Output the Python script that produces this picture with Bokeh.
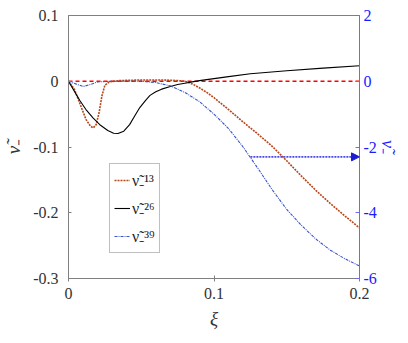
from bokeh.plotting import figure
from bokeh.models import (Range1d, LinearAxis, FixedTicker, Legend, LegendItem,
                          Arrow, NormalHead)
from bokeh.embed import file_html
from bokeh.resources import INLINE

# ---- data ----
xi13 = [0, 0.004, 0.008, 0.012, 0.015, 0.017, 0.019, 0.021, 0.023, 0.025, 0.028,
        0.035, 0.05, 0.065, 0.075, 0.08, 0.085, 0.09, 0.095, 0.1, 0.105, 0.11,
        0.12, 0.13, 0.14, 0.15, 0.16, 0.17, 0.18, 0.19, 0.2]
v13 = [0, -0.012, -0.035, -0.058, -0.068, -0.071, -0.066, -0.048, -0.022, -0.006, -0.001,
       0.001, 0.002, 0.002, 0.001, 0.0, -0.004, -0.010, -0.017, -0.025, -0.034, -0.043,
       -0.062, -0.080, -0.099, -0.121, -0.144, -0.166, -0.186, -0.205, -0.223]

xi26 = [0, 0.004, 0.008, 0.012, 0.017, 0.022, 0.027, 0.031, 0.034, 0.038, 0.042, 0.046,
        0.049, 0.053, 0.056, 0.06, 0.064, 0.07, 0.075, 0.08, 0.085, 0.09, 0.1, 0.11,
        0.125, 0.15, 0.175, 0.2]
v26 = [0, -0.015, -0.030, -0.043, -0.056, -0.067, -0.075, -0.079, -0.0795, -0.076, -0.066,
       -0.051, -0.040, -0.029, -0.0215, -0.016, -0.012, -0.008, -0.005, -0.003, -0.001,
       0.001, 0.004, 0.007, 0.0115, 0.016, 0.020, 0.0236]

# v39 on the right axis
xi39 = [0, 0.005, 0.01, 0.015, 0.02, 0.03, 0.05, 0.06, 0.07, 0.08, 0.09, 0.1, 0.11,
        0.12, 0.13, 0.14, 0.15, 0.16, 0.17, 0.18, 0.19, 0.2]
v39 = [0, -0.08, -0.16, -0.10, -0.02, 0.0, 0.0, -0.04, -0.14, -0.34, -0.62, -1.0, -1.44,
       -2.0, -2.64, -3.3, -3.9, -4.38, -4.8, -5.14, -5.4, -5.62]

zero_x = [0, 0.2]
zero_y = [0, 0]

arrow_x = [0.125, 0.2]
arrow_y = -2.3

x_ticks = [0, 0.1, 0.2]
x_tick_labels = ["0", "0.1", "0.2"]
yl_ticks = [0.1, 0, -0.1, -0.2, -0.3]
yl_tick_labels = ["0.1", "0", "-0.1", "-0.2", "-0.3"]
yr_ticks = [2, 0, -2, -4, -6]
yr_tick_labels = ["2", "0", "-2", "-4", "-6"]

labels = ["ν̃₋¹³", "ν̃₋²⁶", "ν̃₋³⁹"]

SERIF = "Liberation Serif"
BLUE_AX = "#6b6bf5"
BLUE_TXT = "#1a1aff"
TXT = "#333333"

p = figure(width=400, height=334, output_backend="svg", toolbar_location=None,
           x_range=Range1d(0, 0.2), y_range=Range1d(-0.3, 0.1),
           min_border_left=64, min_border_right=40, min_border_top=15, min_border_bottom=56,
           x_axis_label="ξ", y_axis_label="ν̃₋")
p.extra_y_ranges = {"right": Range1d(-6, 2)}
p.grid.visible = False
p.outline_line_color = "#808080"
p.outline_line_width = 1
p.background_fill_color = "white"
p.border_fill_color = "white"

# x axis
xa = p.xaxis[0]
xa.ticker = FixedTicker(ticks=x_ticks)
xa.major_label_overrides = {t: l for t, l in zip(x_ticks, x_tick_labels)}
xa.minor_tick_line_color = None
xa.major_tick_in = 3
xa.major_tick_out = 3
xa.axis_line_color = "#808080"
xa.major_tick_line_color = "#808080"
xa.major_label_text_font = SERIF
xa.major_label_text_font_size = "16px"
xa.major_label_text_color = TXT
xa.major_label_standoff = 6
xa.axis_label_text_font = SERIF
xa.axis_label_text_font_style = "italic"
xa.axis_label_text_font_size = "19px"
xa.axis_label_text_color = TXT
xa.axis_label_standoff = 6

# left axis
ya = p.yaxis[0]
ya.ticker = FixedTicker(ticks=yl_ticks)
ya.major_label_overrides = {t: l for t, l in zip(yl_ticks, yl_tick_labels)}
ya.minor_tick_line_color = None
ya.major_tick_in = 3
ya.major_tick_out = 0
ya.axis_line_color = "#808080"
ya.major_tick_line_color = "#808080"
ya.major_label_text_font = SERIF
ya.major_label_text_font_size = "16px"
ya.major_label_text_color = TXT
ya.major_label_standoff = 10
ya.axis_label_text_font = SERIF
ya.axis_label_text_font_style = "italic"
ya.axis_label_text_font_size = "19px"
ya.axis_label_text_color = TXT
ya.axis_label_standoff = 6

# right axis
ra = LinearAxis(y_range_name="right", axis_label="ν̃₋")
ra.ticker = FixedTicker(ticks=yr_ticks)
ra.major_label_overrides = {t: l for t, l in zip(yr_ticks, yr_tick_labels)}
ra.minor_tick_line_color = None
ra.major_tick_in = 4
ra.major_tick_out = 0
ra.axis_line_color = BLUE_AX
ra.major_tick_line_color = BLUE_AX
ra.major_label_text_font = SERIF
ra.major_label_text_font_size = "16px"
ra.major_label_text_color = BLUE_TXT
ra.major_label_standoff = 4
ra.axis_label_text_font = SERIF
ra.axis_label_text_font_style = "italic"
ra.axis_label_text_font_size = "18px"
ra.axis_label_text_color = BLUE_TXT
ra.axis_label_standoff = -2
p.add_layout(ra, "right")

# lines
p.line(zero_x, zero_y, line_color="#ff0000", line_dash="4 3", line_width=1.3)
r13 = p.line(xi13, v13, line_color="#b8461a", line_dash="2 1", line_width=1.6)
r26 = p.line(xi26, v26, line_color="black", line_width=1.1)
r39 = p.line(xi39, v39, y_range_name="right", line_color="#3a55c8",
             line_dash="3 1 1 1", line_width=1.1)

arr = Arrow(end=NormalHead(size=8, fill_color="#1c1cd0", line_color="#1c1cd0"),
            x_start=arrow_x[0], y_start=arrow_y, x_end=arrow_x[1], y_end=arrow_y,
            y_range_name="right", line_color="#4a4ae8", line_dash="2 1", line_width=1.6)
p.add_layout(arr)

legend = Legend(items=[LegendItem(label=labels[0], renderers=[r13]),
                       LegendItem(label=labels[1], renderers=[r26]),
                       LegendItem(label=labels[2], renderers=[r39])],
                location=(41, 25))
legend.label_text_font = SERIF
legend.label_text_font_size = "16px"
legend.label_text_color = "#222222"
legend.glyph_width = 16
legend.glyph_height = 20
legend.label_height = 24
legend.label_standoff = 2
legend.padding = 4
legend.spacing = 4
legend.margin = 0
legend.border_line_color = "#808080"
legend.border_line_width = 1
legend.background_fill_alpha = 1
p.add_layout(legend)

open("out.html", "w").write(file_html(p, INLINE))
